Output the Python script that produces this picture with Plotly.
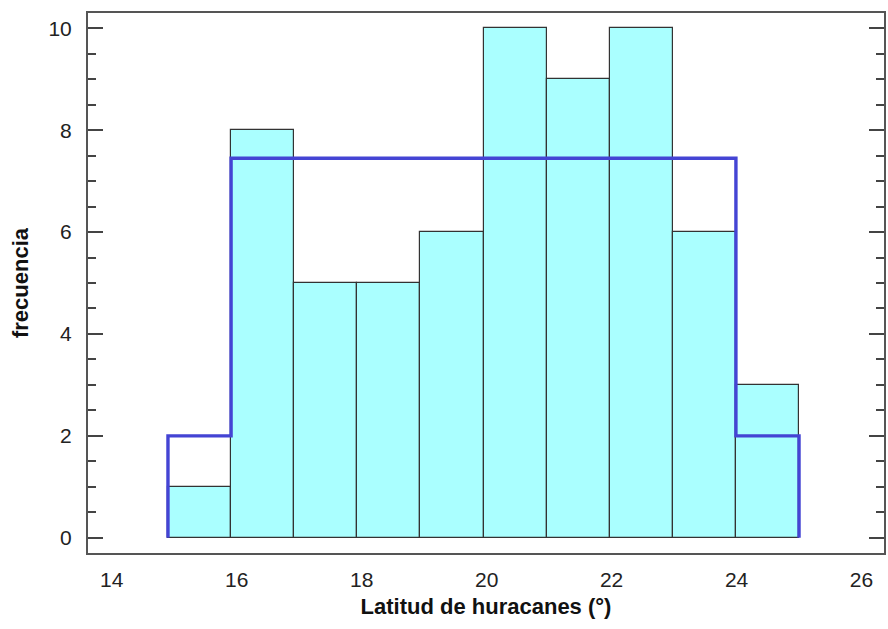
import plotly.graph_objects as go

# Histogram of hurricane latitudes
bin_edges = [14.90, 15.91, 16.92, 17.93, 18.94, 19.95, 20.96, 21.97, 22.98, 23.99, 25.00]
counts = [1, 8, 5, 5, 6, 10, 9, 10, 6, 3]

# Fitted distribution drawn as a step outline
fit_edges = [14.90, 15.91, 23.99, 25.00]
fit_heights = [2.0, 7.45, 2.0]

x_ticks = [14, 16, 18, 20, 22, 24, 26]
y_ticks = [0, 2, 4, 6, 8, 10]

centers = [(a + b) / 2 for a, b in zip(bin_edges[:-1], bin_edges[1:])]
widths = [b - a for a, b in zip(bin_edges[:-1], bin_edges[1:])]

# step outline: up from zero, across each level, back down to zero
sx = [fit_edges[0]]
sy = [0]
for i, h in enumerate(fit_heights):
    sx += [fit_edges[i], fit_edges[i + 1]]
    sy += [h, h]
sx.append(fit_edges[-1])
sy.append(0)

fig = go.Figure()
fig.add_trace(go.Bar(
    x=centers, y=counts, width=widths,
    marker=dict(color="#AAFFFF", line=dict(color="#333333", width=1.2)),
    hoverinfo="x+y",
))
fig.add_trace(go.Scatter(
    x=sx, y=sy, mode="lines",
    line=dict(color="#4444D4", width=3.4),
    hoverinfo="skip",
))

fig.update_layout(
    width=888, height=629,
    margin=dict(l=88, r=2, t=13, b=76),
    plot_bgcolor="white", paper_bgcolor="white",
    showlegend=False,
    font=dict(family="Liberation Sans, Arial, sans-serif", size=21, color="#222222"),
    bargap=0,
)
fig.update_xaxes(
    range=[13.62, 26.36],
    tickvals=x_ticks, ticks="", showgrid=False, zeroline=False,
    showline=True, linecolor="#555555", linewidth=2, mirror=True,
    ticklabelstandoff=7,
    title=dict(text="<b>Latitud de huracanes (°)</b>", font=dict(size=22, color="#111111"), standoff=8),
)
fig.update_yaxes(
    range=[-0.3, 10.3],
    tickvals=y_ticks, ticks="inside", ticklen=15, tickwidth=2, tickcolor="#444444",
    minor=dict(dtick=0.5, ticks="inside", ticklen=8, tickwidth=2, tickcolor="#444444", showgrid=False),
    showgrid=False, zeroline=False,
    showline=True, linecolor="#555555", linewidth=2, mirror="ticks",
    ticklabelstandoff=10,
    title=dict(text="<b>frecuencia</b>", font=dict(size=22, color="#111111"), standoff=14),
)

fig.write_html("out.html")
